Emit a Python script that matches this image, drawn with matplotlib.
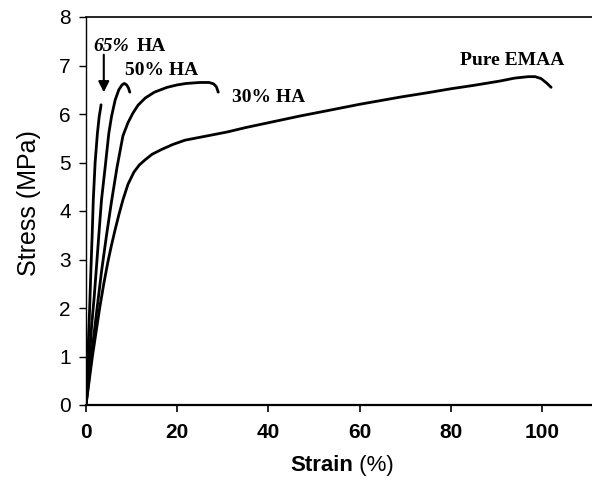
"""
Stress-strain curves of EMAA and EMAA/HA composites.
"""

import matplotlib
matplotlib.use('Agg')
import matplotlib.pyplot as plt

# ---------------------------------------------------------------------------
# Data
# ---------------------------------------------------------------------------
pure_strain = [0, 0.7, 1.4, 2.2, 3.0, 3.9, 4.8, 5.6, 6.4, 7.2, 8.1, 9.2,
               10.5, 11.7, 12.9, 14.5, 16.6, 19.0, 21.7, 25.0, 31.0, 35.0,
               40.0, 47.0, 53.0, 60.0, 69.0, 75.0, 80.0, 85.0, 90.8, 94.0,
               97.0, 98.5, 99.8, 101.0, 102.0]
pure_stress = [0, 0.5, 1.0, 1.5, 2.0, 2.5, 2.95, 3.3, 3.62, 3.92, 4.23, 4.55,
               4.8, 4.95, 5.05, 5.17, 5.27, 5.37, 5.46, 5.52, 5.63, 5.72,
               5.82, 5.96, 6.07, 6.2, 6.35, 6.44, 6.52, 6.59, 6.68, 6.74,
               6.77, 6.77, 6.73, 6.64, 6.55]

ha30_strain = [0, 0.6, 1.2, 1.8, 2.5, 3.4, 4.5, 5.6, 6.8, 8.1, 9.2, 10.3,
               11.4, 13.0, 15.0, 17.8, 20.0, 22.0, 25.0, 27.0, 28.0, 28.6, 29.0]
ha30_stress = [0, 0.5, 1.0, 1.5, 2.05, 2.75, 3.5, 4.2, 4.9, 5.55, 5.82, 6.02,
               6.18, 6.33, 6.45, 6.55, 6.6, 6.63, 6.65, 6.65, 6.62, 6.56, 6.45]

ha50_strain = [0, 0.4, 0.8, 1.2, 1.8, 2.3, 2.85, 3.4, 4.2, 5.0, 5.6, 6.4,
               7.2, 7.9, 8.4, 8.9, 9.3, 9.6]
ha50_stress = [0, 0.5, 1.0, 1.6, 2.23, 2.85, 3.55, 4.23, 4.9, 5.6, 5.95, 6.29,
               6.5, 6.6, 6.63, 6.6, 6.54, 6.45]

ha65_strain = [0, 0.2, 0.4, 0.6, 0.8, 1.1, 1.35, 1.6, 2.0, 2.5, 2.9, 3.2, 3.3]
ha65_stress = [0, 0.5, 1.0, 1.5, 2.0, 2.85, 3.5, 4.23, 5.0, 5.6, 5.95, 6.12,
               6.19]

x_ticks = [0, 20, 40, 60, 80, 100]
y_ticks = [0, 1, 2, 3, 4, 5, 6, 7, 8]

# ---------------------------------------------------------------------------
# Plot
# ---------------------------------------------------------------------------
plt.rcParams['font.family'] = ['Liberation Sans', 'DejaVu Sans']

fig = plt.figure(figsize=(5.92, 4.91), dpi=100)
ax = fig.add_axes([86 / 592, 86 / 491, 506 / 592, 388 / 491])

for xs, ys in [(pure_strain, pure_stress), (ha30_strain, ha30_stress),
               (ha50_strain, ha50_stress), (ha65_strain, ha65_stress)]:
    ax.plot(xs, ys, color='black', lw=2.0, solid_capstyle='round',
            solid_joinstyle='round')

ax.set_xlim(0, 506 / 4.56)
ax.set_ylim(0, 8)
ax.set_xticks(x_ticks)
ax.set_yticks(y_ticks)
ax.tick_params(axis='x', labelsize=15, length=5, width=1.2, pad=8)
ax.tick_params(axis='y', labelsize=15, length=5, width=1.0, pad=6)
for lbl in ax.get_xticklabels():
    lbl.set_fontweight('bold')

ax.spines['right'].set_visible(False)
ax.spines['left'].set_linewidth(1.0)
ax.spines['bottom'].set_linewidth(1.6)
ax.spines['top'].set_linewidth(1.2)

ax.set_ylabel('Stress (MPa)', fontsize=18)
ax.yaxis.set_label_coords(-0.088, 0.521)
# x label: bold "Strain" followed by regular "(%)"
fig.text(353 / 592, 0.051, 'Strain', fontsize=16, fontweight='bold',
         ha='right', va='center')
fig.text(353 / 592, 0.051, ' (%)', fontsize=16, ha='left', va='center')

serif = ['Liberation Serif', 'DejaVu Serif']
ax.text(1.5, 7.4, '65%', family=serif, fontsize=14, fontweight='bold',
        style='italic', va='center', ha='left')
ax.text(11.0, 7.4, 'HA', family=serif, fontsize=14, fontweight='bold',
        va='center', ha='left')
ax.text(8.6, 6.9, '50% HA', family=serif, fontsize=14, fontweight='bold',
        va='center', ha='left')
ax.text(32.0, 6.35, '30% HA', family=serif, fontsize=14, fontweight='bold',
        va='center', ha='left')
ax.text(82.0, 7.1, 'Pure EMAA', family=serif, fontsize=14, fontweight='bold',
        va='center', ha='left')

ax.annotate('', xy=(3.9, 6.39), xytext=(3.9, 7.28),
            arrowprops=dict(arrowstyle='-|>', color='black', lw=1.5,
                            mutation_scale=16))

fig.savefig('out.png', dpi=100)
